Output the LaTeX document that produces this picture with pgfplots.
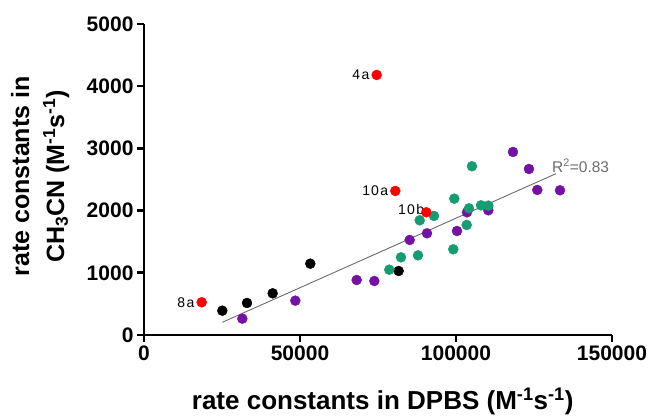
\documentclass[border=0pt]{standalone}
\usepackage{fontspec}
\setmainfont{Liberation Sans}
\usepackage{pgfplots}
\pgfplotsset{compat=1.18}
\definecolor{mypurple}{HTML}{7412A4}
\definecolor{mygreen}{HTML}{169C72}
\definecolor{myred}{HTML}{FF0000}
\begin{document}
\begin{tikzpicture}
\begin{axis}[
  scale only axis, width=468pt, height=311pt,
  xmin=0, xmax=150000, ymin=0, ymax=5000,
  axis x line*=bottom, axis y line*=left,
  axis line style={line width=2.6pt},
  scaled x ticks=false, scaled y ticks=false,
  xtick={0,50000,100000,150000}, xticklabels={0,50000,100000,150000},
  ytick={0,1000,2000,3000,4000,5000}, yticklabels={0,1000,2000,3000,4000,5000},
  tick style={line width=2.6pt, black}, tick align=outside, major tick length=7pt,
  ticklabel style={font=\bfseries\fontsize{21}{22}\selectfont},
  /pgf/number format/assume math mode=true,
  xlabel={rate constants in DPBS (M\textsuperscript{-1}s\textsuperscript{-1})},
  xlabel style={font=\bfseries\fontsize{26}{28}\selectfont, at={(axis description cs:0.51,0)}, anchor=north, inner sep=0pt, yshift=-53pt},
  ylabel={rate constants in\\CH\textsubscript{3}CN (M\textsuperscript{-1}s\textsuperscript{-1})},
  ylabel style={font=\bfseries\fontsize{25}{35}\selectfont, align=center, at={(axis description cs:-0.222,0.51)}, anchor=center, inner sep=0pt},
  clip=false,
  every axis plot/.append style={only marks, mark=*, mark size=5pt},
]
\coordinate (o) at (rel axis cs:0,0);
% regression line
\addplot[sharp plot, no marks, color=gray!85!black, line width=0.9pt] coordinates {(25100,204) (132050,2594)};
% black
\addplot[black, mark options={fill=black, draw=black}] coordinates {
(25100,391) (33010,515) (41240,670) (53300,1147) (81620,1029)};
% purple
\addplot[mypurple, mark options={fill=mypurple, draw=mypurple}] coordinates {
(31510,263) (48500,552) (68160,884) (73820,868) (85150,1528) (90700,1635)
(100320,1672) (103520,1973) (110360,2005) (118260,2943) (123390,2669)
(126060,2332) (133330,2327)};
% green
\addplot[mygreen, mark options={fill=mygreen, draw=mygreen}] coordinates {
(78620,1050) (82370,1249) (87820,1281) (88360,1844) (92950,1914) (99130,1378)
(99450,2192) (103420,1769) (104160,2037) (105120,2713) (108010,2085) (110360,2080)};
% red
\addplot[myred, mark options={fill=myred, draw=myred}] coordinates {
(18490,526) (74580,4181) (80550,2316) (90480,1973)};
\node[anchor=east, font=\fontsize{14}{15}\selectfont, inner sep=0pt, xshift=-7pt] at (axis cs:18490,526) {8\kern1.5pt a};
\node[anchor=east, font=\fontsize{14}{15}\selectfont, inner sep=0pt, xshift=-7pt] at (axis cs:74580,4181) {4\kern1.5pt a};
\node[anchor=east, font=\fontsize{14}{15}\selectfont, inner sep=0pt, xshift=-7pt] at (axis cs:80550,2316) {1\kern1pt0\kern1.5pt a};
\node[anchor=east, font=\fontsize{14}{15}\selectfont, inner sep=0pt, xshift=-2pt, yshift=3pt] at (axis cs:90480,1973) {1\kern1pt0\kern1.5pt b};
\node[anchor=west, font=\fontsize{15.5}{16}\selectfont, inner sep=0pt, text=gray!85!black] at (axis cs:130760,2720) {R\textsuperscript{2}=0.83};
\end{axis}
\pgfresetboundingbox
\path[use as bounding box] (o) ++(-144pt,-82pt) rectangle ++(651pt,417pt);
\end{tikzpicture}
\end{document}
